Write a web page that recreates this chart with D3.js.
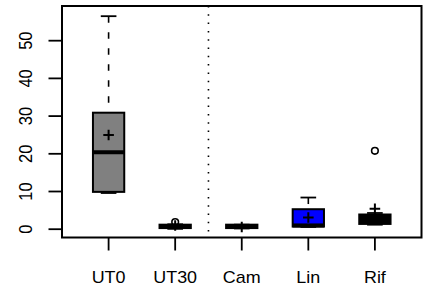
<!DOCTYPE html>
<html>
<head>
<meta charset="utf-8">
<title>Boxplot</title>
<script src="https://d3js.org/d3.v7.min.js"></script>
<style>
  body { margin: 0; background: #fff; }
  text { font-family: "Liberation Sans", Arial, sans-serif; fill: #000; }
</style>
</head>
<body>
<div id="chart"></div>
<script>
// data
const categories = ["UT0", "UT30", "Cam", "Lin", "Rif"];
const whiskerLow = [9.6, 0.1, 0.2, 0.6, 1.2];
const q1 = [9.9, 0.3, 0.3, 0.7, 1.4];
const medians = [20.4, 0.8, 0.7, 1.0, 2.5];
const q3 = [30.9, 1.2, 1.2, 5.3, 3.9];
const whiskerHigh = [56.5, 1.3, 1.2, 8.4, 4.3];
const means = [25.0, 1.0, 0.6, 3.1, 5.4];
const outliers = [[], [1.9], [], [], [20.8]];
const yTicks = [0, 10, 20, 30, 40, 50];
const fills = ["#808080", "#000000", "#000000", "#0000ff", "#000000"];

const W = 432, H = 292;
const svg = d3.select("#chart").append("svg")
    .attr("width", W).attr("height", H);

const mLeft = 62, mRight = 421.5, mTop = 6, mBottom = 237.5;
const x = d3.scaleLinear().domain([0.3, categories.length + 0.7]).range([mLeft, mRight]);
const y = d3.scaleLinear().domain([-2.2, 59.2]).range([mBottom, mTop]);

const boxHalf = x(1.235) - x(1);
const capHalf = boxHalf / 2;

// dotted separator between groups
svg.append("line")
    .attr("x1", x(2.5)).attr("x2", x(2.5))
    .attr("y1", mTop).attr("y2", mBottom)
    .attr("stroke", "#000").attr("stroke-width", 1.6)
    .attr("stroke-dasharray", "1.5,6.8");

const boxes = svg.selectAll(".box").data(categories).enter()
    .append("g").attr("class", "box");

// whiskers (dashed)
boxes.append("line")
    .attr("x1", (d, i) => x(i + 1)).attr("x2", (d, i) => x(i + 1))
    .attr("y1", (d, i) => y(whiskerHigh[i])).attr("y2", (d, i) => y(q3[i]))
    .attr("stroke", "#000").attr("stroke-width", 1.6)
    .attr("stroke-dasharray", "6.5,9.5");
boxes.append("line")
    .attr("x1", (d, i) => x(i + 1)).attr("x2", (d, i) => x(i + 1))
    .attr("y1", (d, i) => y(whiskerLow[i])).attr("y2", (d, i) => y(q1[i]))
    .attr("stroke", "#000").attr("stroke-width", 1.6)
    .attr("stroke-dasharray", "6.5,9.5");

// caps
[whiskerHigh, whiskerLow].forEach(arr => {
  boxes.append("line")
      .attr("x1", (d, i) => x(i + 1) - capHalf).attr("x2", (d, i) => x(i + 1) + capHalf)
      .attr("y1", (d, i) => y(arr[i])).attr("y2", (d, i) => y(arr[i]))
      .attr("stroke", "#000").attr("stroke-width", 1.8);
});

// boxes
boxes.append("rect")
    .attr("x", (d, i) => x(i + 1) - boxHalf)
    .attr("width", boxHalf * 2)
    .attr("y", (d, i) => y(q3[i]))
    .attr("height", (d, i) => y(q1[i]) - y(q3[i]))
    .attr("fill", (d, i) => fills[i])
    .attr("stroke", "#000").attr("stroke-width", 2);

// medians
boxes.append("line")
    .attr("x1", (d, i) => x(i + 1) - boxHalf).attr("x2", (d, i) => x(i + 1) + boxHalf)
    .attr("y1", (d, i) => y(medians[i])).attr("y2", (d, i) => y(medians[i]))
    .attr("stroke", "#000").attr("stroke-width", 4);

// means (+)
const plus = 5.3;
boxes.append("path")
    .attr("d", (d, i) => {
      const cx = x(i + 1), cy = y(means[i]);
      return `M${cx - plus},${cy}H${cx + plus}M${cx},${cy - plus}V${cy + plus}`;
    })
    .attr("stroke", "#000").attr("stroke-width", 2).attr("fill", "none");

// outliers
categories.forEach((c, i) => {
  svg.selectAll(null).data(outliers[i]).enter().append("circle")
      .attr("cx", x(i + 1)).attr("cy", d => y(d))
      .attr("r", 3.3)
      .attr("fill", "none").attr("stroke", "#000").attr("stroke-width", 1.6);
});

// frame
svg.append("rect")
    .attr("x", mLeft).attr("y", mTop)
    .attr("width", mRight - mLeft).attr("height", mBottom - mTop)
    .attr("fill", "none").attr("stroke", "#000").attr("stroke-width", 2);

// y axis
svg.selectAll(".ytick").data(yTicks).enter().append("line")
    .attr("x1", mLeft - 13.5).attr("x2", mLeft)
    .attr("y1", d => y(d)).attr("y2", d => y(d))
    .attr("stroke", "#000").attr("stroke-width", 1.8);
svg.selectAll(".ylab").data(yTicks).enter().append("text")
    .attr("transform", d => `translate(31.7,${y(d)}) scale(1.1,1) rotate(-90)`)
    .attr("text-anchor", "middle")
    .attr("font-size", 16.5)
    .text(d => d);

// x axis
svg.selectAll(".xtick").data(categories).enter().append("line")
    .attr("x1", (d, i) => x(i + 1)).attr("x2", (d, i) => x(i + 1))
    .attr("y1", mBottom).attr("y2", mBottom + 13)
    .attr("stroke", "#000").attr("stroke-width", 1.8);
svg.selectAll(".xlab").data(categories).enter().append("text")
    .attr("transform", (d, i) => `translate(${x(i + 1)},283) scale(1.12,1)`)
    .attr("text-anchor", "middle")
    .attr("font-size", 16)
    .text(d => d);
</script>
</body>
</html>
